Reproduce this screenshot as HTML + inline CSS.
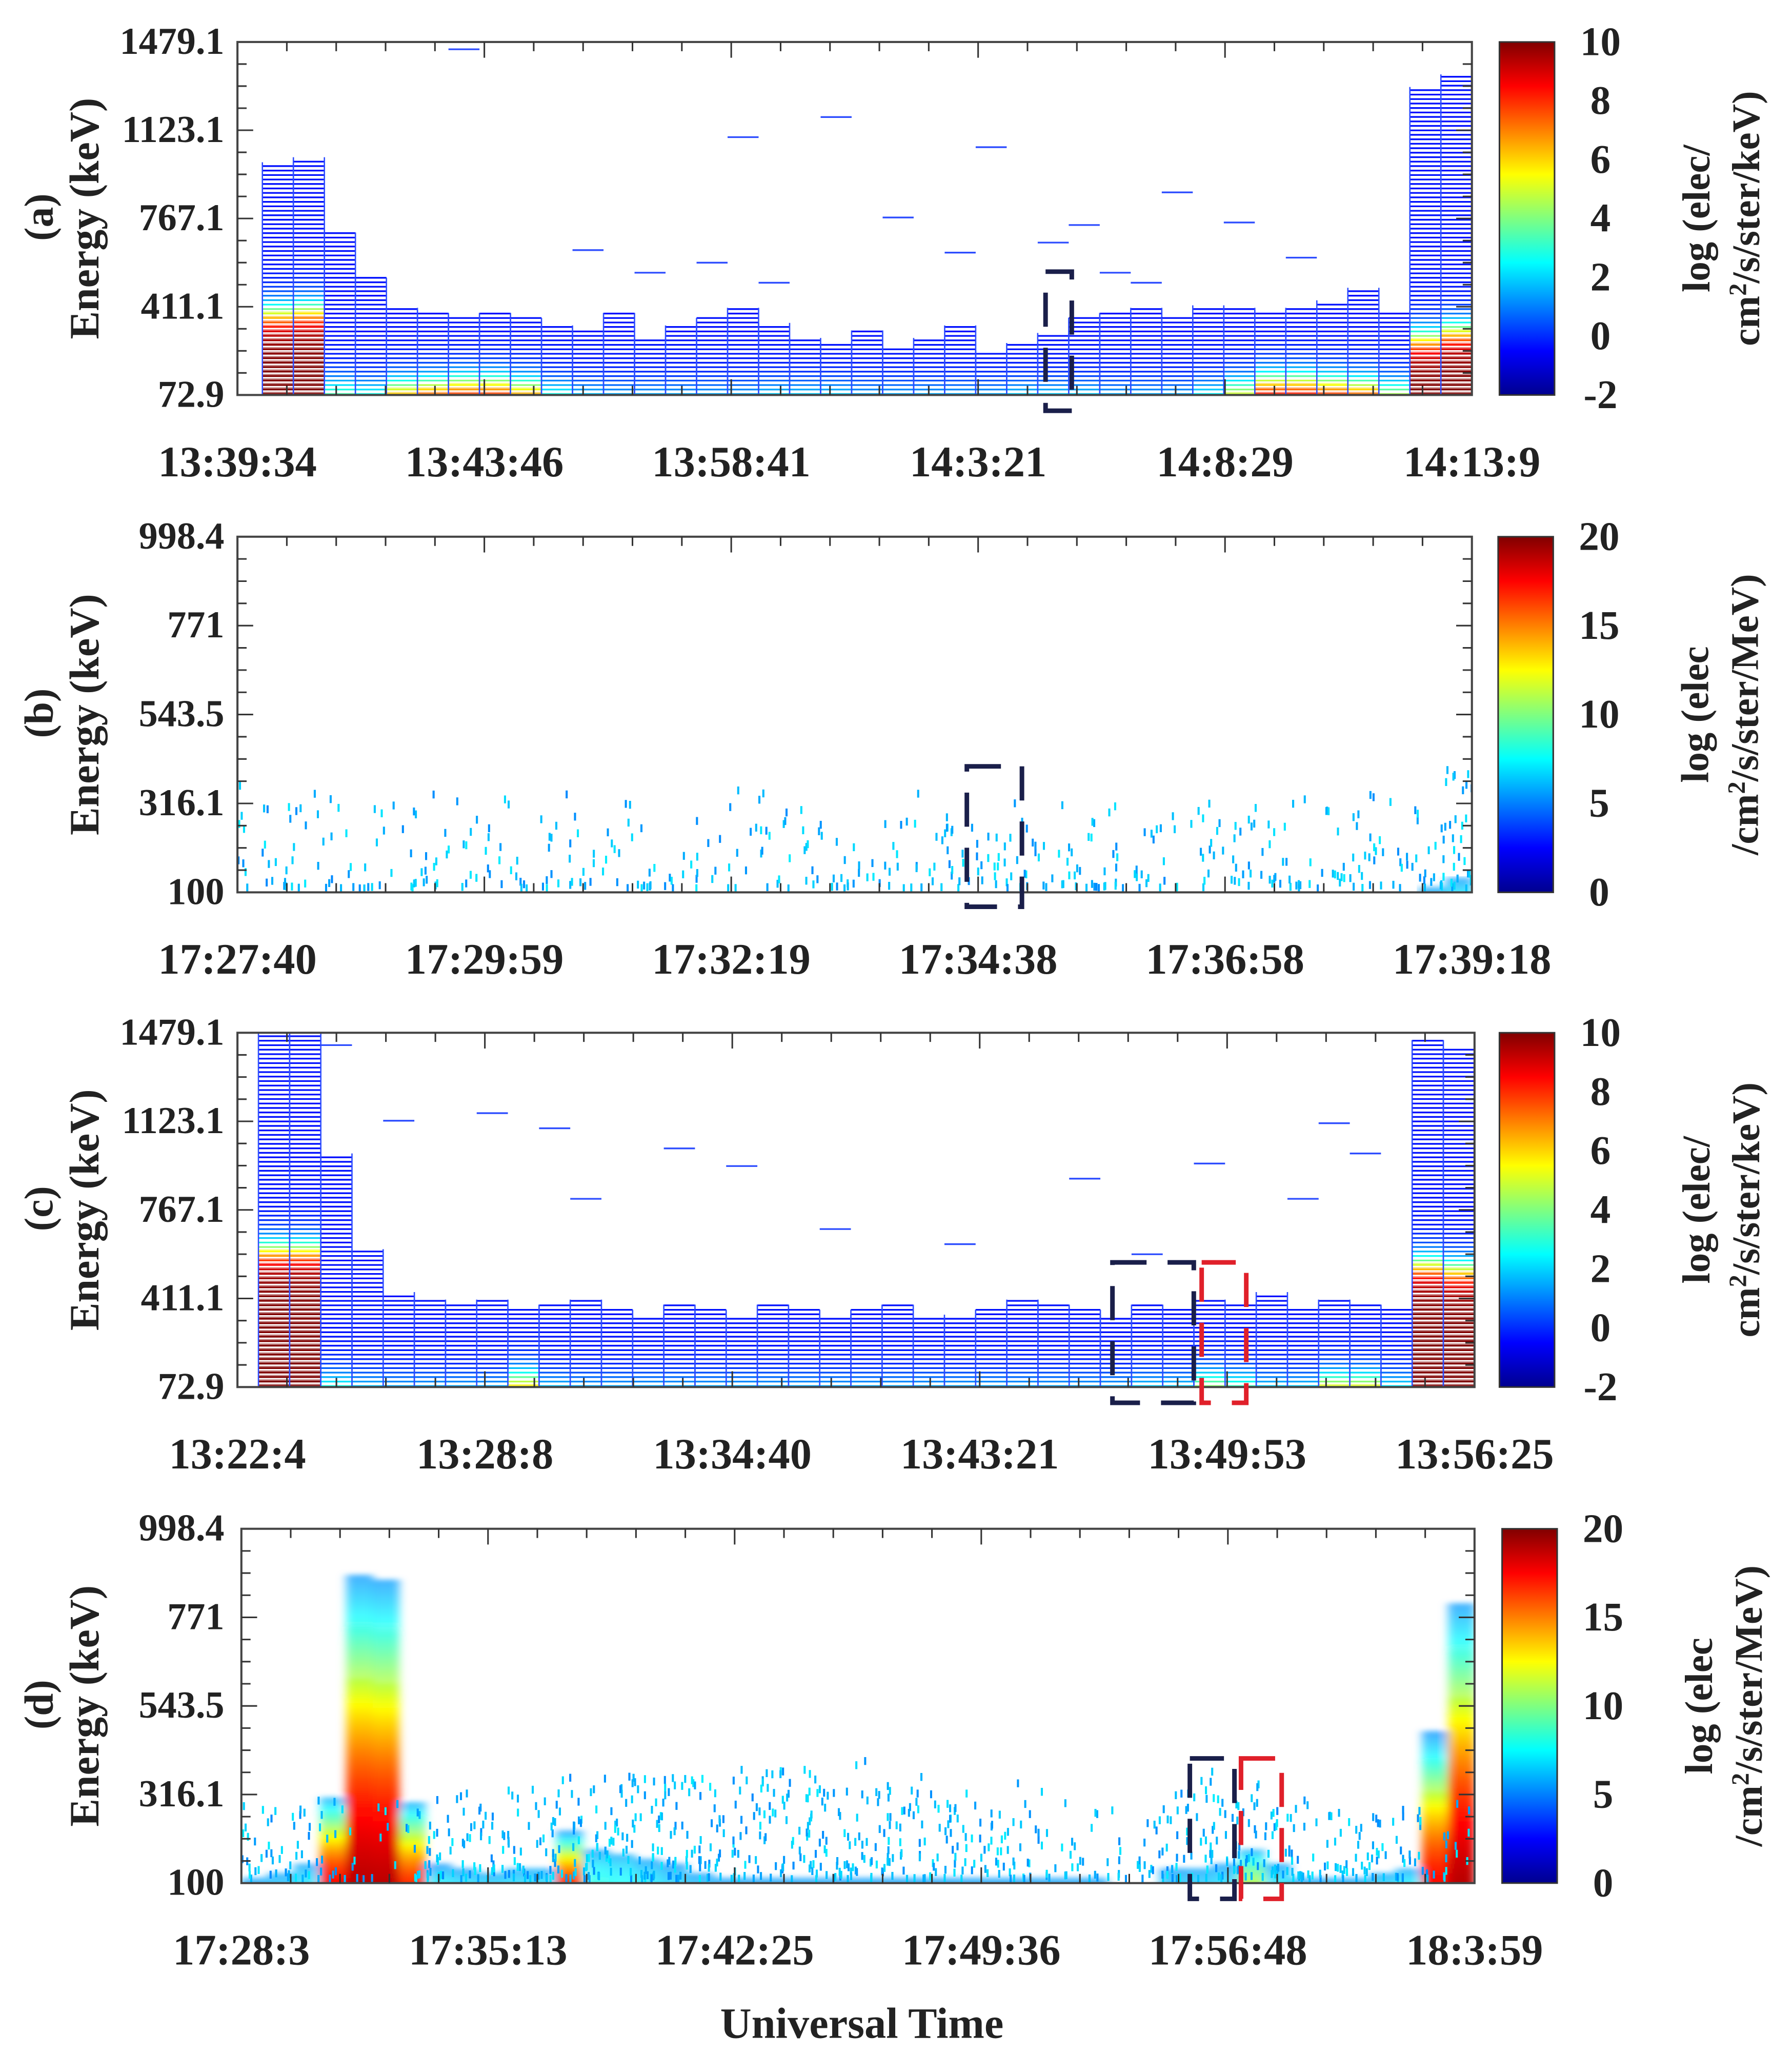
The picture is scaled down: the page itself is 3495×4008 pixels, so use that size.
<!DOCTYPE html>
<html><head><meta charset="utf-8"><style>
html,body{margin:0;padding:0;background:#fff;}
svg{display:block;}
</style></head><body>
<svg id="fig" xmlns="http://www.w3.org/2000/svg" width="3495" height="4008" viewBox="0 0 1366 1566" preserveAspectRatio="none" font-family="'Liberation Serif', serif" font-weight="bold" fill="#222">
<defs>
<linearGradient id="jet" x1="0" y1="1" x2="0" y2="0">
<stop offset="0" stop-color="#00008f"/><stop offset="0.125" stop-color="#0000ff"/><stop offset="0.375" stop-color="#00ffff"/><stop offset="0.625" stop-color="#ffff00"/><stop offset="0.875" stop-color="#ff0000"/><stop offset="1" stop-color="#800000"/>
</linearGradient>
<filter id="soft" x="-5%" y="-5%" width="110%" height="110%"><feGaussianBlur stdDeviation="3.5 2"/></filter>
</defs>
</svg>
<script>
// ---------- DATA ----------
const timeLabelsA = ["13:39:34","13:43:46","13:58:41","14:3:21","14:8:29","14:13:9"];
const timeLabelsB = ["17:27:40","17:29:59","17:32:19","17:34:38","17:36:58","17:39:18"];
const timeLabelsC = ["13:22:4","13:28:8","13:34:40","13:43:21","13:49:53","13:56:25"];
const timeLabelsD = ["17:28:3","17:35:13","17:42:25","17:49:36","17:56:48","18:3:59"];
const energyTicksAC = [72.9, 411.1, 767.1, 1123.1, 1479.1];
const energyTicksBD = [100, 316.1, 543.5, 771, 998.4];
const cbarTicksAC = [-2, 0, 2, 4, 6, 8, 10];
const cbarTicksBD = [0, 5, 10, 15, 20];

// panel (a): per-column top energy (keV), peak intensity, sigmoid centre energy (keV)
const topsA = [1000,1020,720,540,420,400,380,400,380,350,330,400,300,350,380,420,360,300,280,330,260,300,350,250,280,320,380,400,420,380,430,420,400,420,450,500,400,1300,1350];
const hotA  = [1,1,0.5,0.45,0.9,1,1,1,0.9,0.45,0.35,0.3,0.3,0.3,0.3,0.3,0.35,0.35,0.35,0.3,0.3,0.3,0.3,0.3,0.35,0.35,0.35,0.3,0.3,0.3,0.4,0.7,1,1,1,1,0.7,1,1];
const hotEA = [400,410,110,100,105,110,120,120,110,100,90,90,90,90,90,90,95,95,95,90,90,90,90,90,95,95,95,90,90,90,100,110,130,130,120,110,100,300,330];
const strayA = [[6,1450],[15,1100],[18,1180],[23,1060],[26,750],[22,640],[12,560],[14,600],[10,650],[20,780],[29,880],[31,760],[33,620],[25,680],[16,520],[28,520],[27,560]];

// panel (c)
const topsC = [1479,1479,1000,620,450,420,400,420,380,400,420,380,360,400,380,350,400,380,360,380,400,360,350,380,420,400,380,360,400,380,420,400,450,380,420,400,380,1450,1420];
const hotC  = [1,1,0.45,0.35,0.3,0.3,0.3,0.3,0.8,0.35,0.3,0.3,0.3,0.3,0.3,0.3,0.3,0.3,0.3,0.3,0.3,0.3,0.3,0.3,0.3,0.3,0.3,0.3,0.35,0.35,0.6,0.5,0.35,0.35,0.8,0.8,0.4,1,1];
const hotEC = [620,620,100,90,90,90,90,90,110,90,90,90,90,90,90,90,90,90,90,90,90,90,90,90,90,90,90,90,95,95,110,105,95,95,100,100,95,560,540];
const strayC = [[2,1430],[4,1130],[7,1160],[9,1100],[13,1020],[15,950],[10,820],[26,900],[33,820],[35,1000],[34,1120],[30,960],[18,700],[22,640],[28,600]];

// panel (b): speckle counts per column, speckle top energy, faint base
const densB = [10,12,9,10,8,8,9,11,8,9,10,8,9,8,10,9,6,7,8,9,10,8,9,9,8,10,11,12,13,12,10,11,12,10,11,9,10,11,12,11,10,11,12,13,12,16,26];
const topB  = [380,360,340,330,330,320,330,360,330,320,340,330,340,320,330,300,290,310,330,350,320,300,320,300,320,340,360,330,320,330,320,340,300,320,330,340,320,330,320,330,340,320,330,340,330,380,400];
const peakB = [0.3,0.3,0.28,0.28,0.28,0.28,0.28,0.28,0.28,0.28,0.28,0.28,0.28,0.28,0.28,0.3,0.28,0.28,0.28,0.28,0.28,0.28,0.28,0.3,0.3,0.3,0.3,0.31,0.31,0.31,0.3,0.31,0.31,0.3,0.31,0.3,0.3,0.3,0.3,0.3,0.3,0.31,0.31,0.31,0.31,0.36,0.42];

// panel (d): peak intensity, sigmoid centre (keV), sigmoid width (keV), speckle counts
const peakD = [0.34,0.35,0.38,0.95,1.0,1.0,0.92,0.42,0.42,0.4,0.38,0.38,0.88,0.42,0.4,0.38,0.36,0.34,0.32,0.32,0.32,0.32,0.32,0.32,0.32,0.32,0.32,0.32,0.32,0.32,0.32,0.32,0.32,0.3,0.3,0.34,0.35,0.37,0.62,0.4,0.36,0.36,0.36,0.4,0.44,0.95,1.0];
const centD = [160,170,180,250,650,640,240,160,150,150,170,170,190,200,200,190,180,170,170,170,170,170,170,170,170,170,170,170,170,170,170,170,170,150,150,180,180,180,170,170,150,150,150,150,150,360,600];
const widD  = [40,40,40,70,220,220,70,40,40,40,40,40,40,40,40,40,40,40,40,40,40,40,40,40,40,40,40,40,40,40,40,40,40,40,40,40,40,40,40,40,40,40,40,40,40,120,200];
const densD = [16,16,18,10,6,6,10,22,20,20,22,26,22,28,30,30,28,24,24,24,26,26,24,26,24,22,20,20,18,18,12,10,8,8,14,24,26,28,22,24,20,18,16,16,18,10,6];
const topD  = [300,300,300,300,300,300,300,320,320,330,340,360,360,380,380,380,360,360,380,380,380,380,400,400,380,360,360,380,380,360,340,320,300,300,330,380,380,370,360,330,300,280,260,260,280,300,300];

// ---------- HELPERS ----------
const NS = 'http://www.w3.org/2000/svg';
const svg = document.getElementById('fig');
function mk(tag, parent) { const e = document.createElementNS(NS, tag); parent.appendChild(e); return e; }
function cl(v){return Math.max(0,Math.min(1,v));}
function jet(t){ t=cl(t); const r=cl(1.5-Math.abs(4*t-3)), g=cl(1.5-Math.abs(4*t-2)), b=cl(1.5-Math.abs(4*t-1));
  return 'rgb('+Math.round(r*255)+','+Math.round(g*255)+','+Math.round(b*255)+')'; }
function hsh(a,b){ const v=Math.sin(a*12.9898+b*78.233)*43758.5453; return v-Math.floor(v); }

function panel(cfg) {
  const g = mk('g', svg);
  
  
  const P = cfg;
  P.yOf = E => P.y1 - (E - P.e0) / (P.e1 - P.e0) * (P.y1 - P.y0);
  P.g = g;
  return P;
}

function drawAxes(P, timeLabels, eTicks, cbTicks, cbLines, letter) {
  const g = P.g;
  const frame = mk('rect', g);
  
  
  frame.setAttribute('x', P.x0); frame.setAttribute('y', P.y0);
  frame.setAttribute('width', P.x1 - P.x0); frame.setAttribute('height', P.y1 - P.y0);
  frame.setAttribute('fill', 'none'); frame.setAttribute('stroke', '#444'); frame.setAttribute('stroke-width', '1.6');
  const nx = 25, ny = 16;
  let d = '';
  for (let i = 1; i < nx; i++) {
    const x = P.x0 + (P.x1 - P.x0) * i / nx; const L = i % 5 === 0 ? 12 : 7;
    d += 'M' + x + ' ' + P.y1 + 'v-' + L + 'M' + x + ' ' + P.y0 + 'v' + L;
  }
  for (let i = 1; i < ny; i++) {
    const y = P.y0 + (P.y1 - P.y0) * i / ny; const L = i % 4 === 0 ? 12 : 7;
    d += 'M' + P.x0 + ' ' + y + 'h' + L + 'M' + P.x1 + ' ' + y + 'h-' + L;
  }
  const ticks = mk('path', g);
  
  
  ticks.setAttribute('d', d); ticks.setAttribute('stroke', '#333'); ticks.setAttribute('stroke-width', '1.2');
  timeLabels.forEach((s, i) => {
    const t = mk('text', g);
    
    
    t.setAttribute('x', P.x0 + (P.x1 - P.x0) * i / 5); t.setAttribute('y', P.y1 + 62);
    t.setAttribute('text-anchor', 'middle'); t.setAttribute('font-size', '33'); t.textContent = s;
  });
  eTicks.forEach((v, i) => {
    const t = mk('text', g);
    
    
    t.setAttribute('x', 171); t.setAttribute('y', P.y1 - (P.y1 - P.y0) * i / (eTicks.length - 1) + 9);
    t.setAttribute('text-anchor', 'end'); t.setAttribute('font-size', '29'); t.textContent = v;
  });
  const yt = mk('text', g);
  
  
  const cy = (P.y0 + P.y1) / 2;
  yt.setAttribute('transform', 'translate(75,' + cy + ') rotate(-90)');
  yt.setAttribute('text-anchor', 'middle'); yt.setAttribute('font-size', '32'); yt.textContent = 'Energy (keV)';
  const pl = mk('text', g);
  
  
  pl.setAttribute('transform', 'translate(40,' + (cy - 1) + ') rotate(-90)');
  pl.setAttribute('text-anchor', 'middle'); pl.setAttribute('font-size', '31'); pl.textContent = letter;
  const cb = mk('rect', g);
  
  
  cb.setAttribute('x', P.cbx); cb.setAttribute('y', P.y0); cb.setAttribute('width', 42); cb.setAttribute('height', P.y1 - P.y0);
  cb.setAttribute('fill', 'url(#jet)'); cb.setAttribute('stroke', '#333'); cb.setAttribute('stroke-width', '1.2');
  cbTicks.forEach((v, i) => {
    const t = mk('text', g);
    
    
    t.setAttribute('x', P.cbx + 77); t.setAttribute('y', P.y1 - (P.y1 - P.y0) * i / (cbTicks.length - 1) + 10);
    t.setAttribute('text-anchor', 'middle'); t.setAttribute('font-size', '31'); t.textContent = v;
  });
  cbLines.forEach((s, i) => {
    const t = mk('text', g);
    
    
    t.setAttribute('transform', 'translate(' + (P.cbx + 160 + i * 38) + ',' + cy + ') rotate(-90)');
    t.setAttribute('text-anchor', 'middle'); t.setAttribute('font-size', '30');
    t.innerHTML = s;
  });
}

function drawBlocks(P, tops, hot, hotE, stray, x0) {
  const n = tops.length, cw = (P.x1 - x0) / n;
  const g = mk('g', P.g);
  
  
  const step = 17.8;
  for (let i = 0; i < n; i++) {
    const x = x0 + i * cw;
    const col = mk('g', g);
    
    
    for (let E = P.e0 + 4; E <= tops[i]; E += step) {
      const inten = hot[i] / (1 + Math.exp((E - hotE[i]) / 35));
      const ln = mk('line', col);
      ln.setAttribute('x1', x); ln.setAttribute('x2', x + cw);
      ln.setAttribute('y1', P.yOf(E)); ln.setAttribute('y2', P.yOf(E));
      ln.setAttribute('stroke', jet(0.14 + 0.86 * inten)); ln.setAttribute('stroke-width', '1.3');
      if (inten > 0.5) {
        const bg = mk('rect', col);
        bg.setAttribute('x', x); bg.setAttribute('y', P.yOf(E) - 1.7);
        bg.setAttribute('width', cw); bg.setAttribute('height', 1.7);
        bg.setAttribute('fill', jet(0.14 + 0.86 * inten)); bg.setAttribute('opacity', '0.5');
      }
    }
    const v = mk('path', col);
    v.setAttribute('d', 'M' + x + ' ' + P.yOf(P.e0 + 4) + 'V' + P.yOf(tops[i]) + 'M' + (x + cw) + ' ' + P.yOf(P.e0 + 4) + 'V' + P.yOf(tops[i]));
    v.setAttribute('stroke', '#2c4cff'); v.setAttribute('stroke-width', '1');
  }
  stray.forEach(s => {
    const ln = mk('line', g);
    
    
    const x = x0 + s[0] * cw;
    ln.setAttribute('x1', x); ln.setAttribute('x2', x + cw);
    ln.setAttribute('y1', P.yOf(s[1])); ln.setAttribute('y2', P.yOf(s[1]));
    ln.setAttribute('stroke', '#2c4cff'); ln.setAttribute('stroke-width', '1.3');
  });
}

function drawSmooth(P, peak, cent, wid, dens, top) {
  const n = peak.length, cw = (P.x1 - P.x0) / n;
  const clip = mk('clipPath', svg);
  clip.setAttribute('id', 'clip-' + P.name);
  const cr = mk('rect', clip);
  cr.setAttribute('x', P.x0); cr.setAttribute('y', P.y0); cr.setAttribute('width', P.x1 - P.x0); cr.setAttribute('height', P.y1 - P.y0);
  const outer = mk('g', P.g);
  
  
  outer.setAttribute('clip-path', 'url(#clip-' + P.name + ')');
  const g = mk('g', outer);
  
  
  g.setAttribute('filter', 'url(#soft)');
  const dE = 12;
  for (let i = 0; i < n; i++) {
    const x = P.x0 + i * cw;
    for (let E = P.e0 - 10; E < P.e1; E += dE) {
      const inten = peak[i] / (1 + Math.exp((E - cent[i]) / wid[i])) * 1.02;
      if (inten < 0.27) continue;
      const r = mk('rect', g);
      
      
      r.setAttribute('x', x); r.setAttribute('y', P.yOf(E + dE));
      r.setAttribute('width', cw + 0.4); r.setAttribute('height', P.yOf(E) - P.yOf(E + dE) + 0.4);
      r.setAttribute('fill', jet(inten));
      r.setAttribute('opacity', inten < 0.4 ? '0.7' : (inten < 0.55 ? '0.8' : '1'));
    }
  }
  const sp = mk('g', outer);
  
  
  for (let i = 0; i < n; i++) {
    const x = P.x0 + i * cw;
    for (let k = 0; k < dens[i]; k++) {
      const sx = x + hsh(i, k) * cw;
      const e = P.e0 + Math.pow(hsh(k + 0.5, i + 7.3), 1.7) * (top[i] - P.e0);
      const s = mk('rect', sp);
      
      
      s.setAttribute('x', sx); s.setAttribute('y', P.yOf(e) - 6);
      s.setAttribute('width', 1.6); s.setAttribute('height', 6);
      s.setAttribute('fill', jet(0.26 + 0.1 * hsh(k * 3.1, i * 1.7)));
    }
  }
}

function bracket(P, x0, x1, y0, y1, color, nm) {
  const r = mk('rect', P.g);
  
  
  r.setAttribute('x', x0); r.setAttribute('y', y0); r.setAttribute('width', x1 - x0); r.setAttribute('height', y1 - y0);
  r.setAttribute('fill', 'none'); r.setAttribute('stroke', color); r.setAttribute('stroke-width', '3.5');
  r.setAttribute('stroke-dasharray', '26 16');
}

// ---------- BUILD ----------
const A = panel({name:'panel-a', x0:181, x1:1122, y0:32, y1:301, e0:72.9, e1:1479.1, cbx:1143});
drawBlocks(A, topsA, hotA, hotEA, strayA, 200);
drawAxes(A, timeLabelsA, energyTicksAC, cbarTicksAC, ['log (elec/','cm<tspan dy="-10" font-size="19">2</tspan><tspan dy="10">/s/ster/keV)</tspan>'], '(a)');
bracket(A, 797, 817, 207, 313, '#1a1f4a', 'event-box-dark');

const B = panel({name:'panel-b', x0:181, x1:1122, y0:409, y1:680, e0:100, e1:998.4, cbx:1142});
drawSmooth(B, peakB, topB.map(()=>150), topB.map(()=>40), densB, topB);
drawAxes(B, timeLabelsB, energyTicksBD, cbarTicksBD, ['log (elec','/cm<tspan dy="-10" font-size="19">2</tspan><tspan dy="10">/s/ster/MeV)</tspan>'], '(b)');
bracket(B, 737, 779, 584, 691, '#1a1f4a', 'event-box-dark');

const C = panel({name:'panel-c', x0:181, x1:1124, y0:787, y1:1057, e0:72.9, e1:1479.1, cbx:1143});
drawBlocks(C, topsC, hotC, hotEC, strayC, 197);
drawAxes(C, timeLabelsC, energyTicksAC, cbarTicksAC, ['log (elec/','cm<tspan dy="-10" font-size="19">2</tspan><tspan dy="10">/s/ster/keV)</tspan>'], '(c)');
bracket(C, 848, 910, 962, 1069, '#1a1f4a', 'event-box-dark');
bracket(C, 916, 950, 962, 1069, '#e0202a', 'event-box-red');

const D = panel({name:'panel-d', x0:184, x1:1124, y0:1165, y1:1435, e0:100, e1:998.4, cbx:1145});
drawSmooth(D, peakD, centD, widD, densD, topD);
drawAxes(D, timeLabelsD, energyTicksBD, cbarTicksBD, ['log (elec','/cm<tspan dy="-10" font-size="19">2</tspan><tspan dy="10">/s/ster/MeV)</tspan>'], '(d)');
bracket(D, 907, 941, 1340, 1447, '#1a1f4a', 'event-box-dark');
bracket(D, 946, 977, 1340, 1447, '#e0202a', 'event-box-red');

const xt = mk('text', svg);


xt.setAttribute('x', 657); xt.setAttribute('y', 1553);
xt.setAttribute('text-anchor', 'middle'); xt.setAttribute('font-size', '33');
xt.textContent = 'Universal Time';
</script>
</body></html>
